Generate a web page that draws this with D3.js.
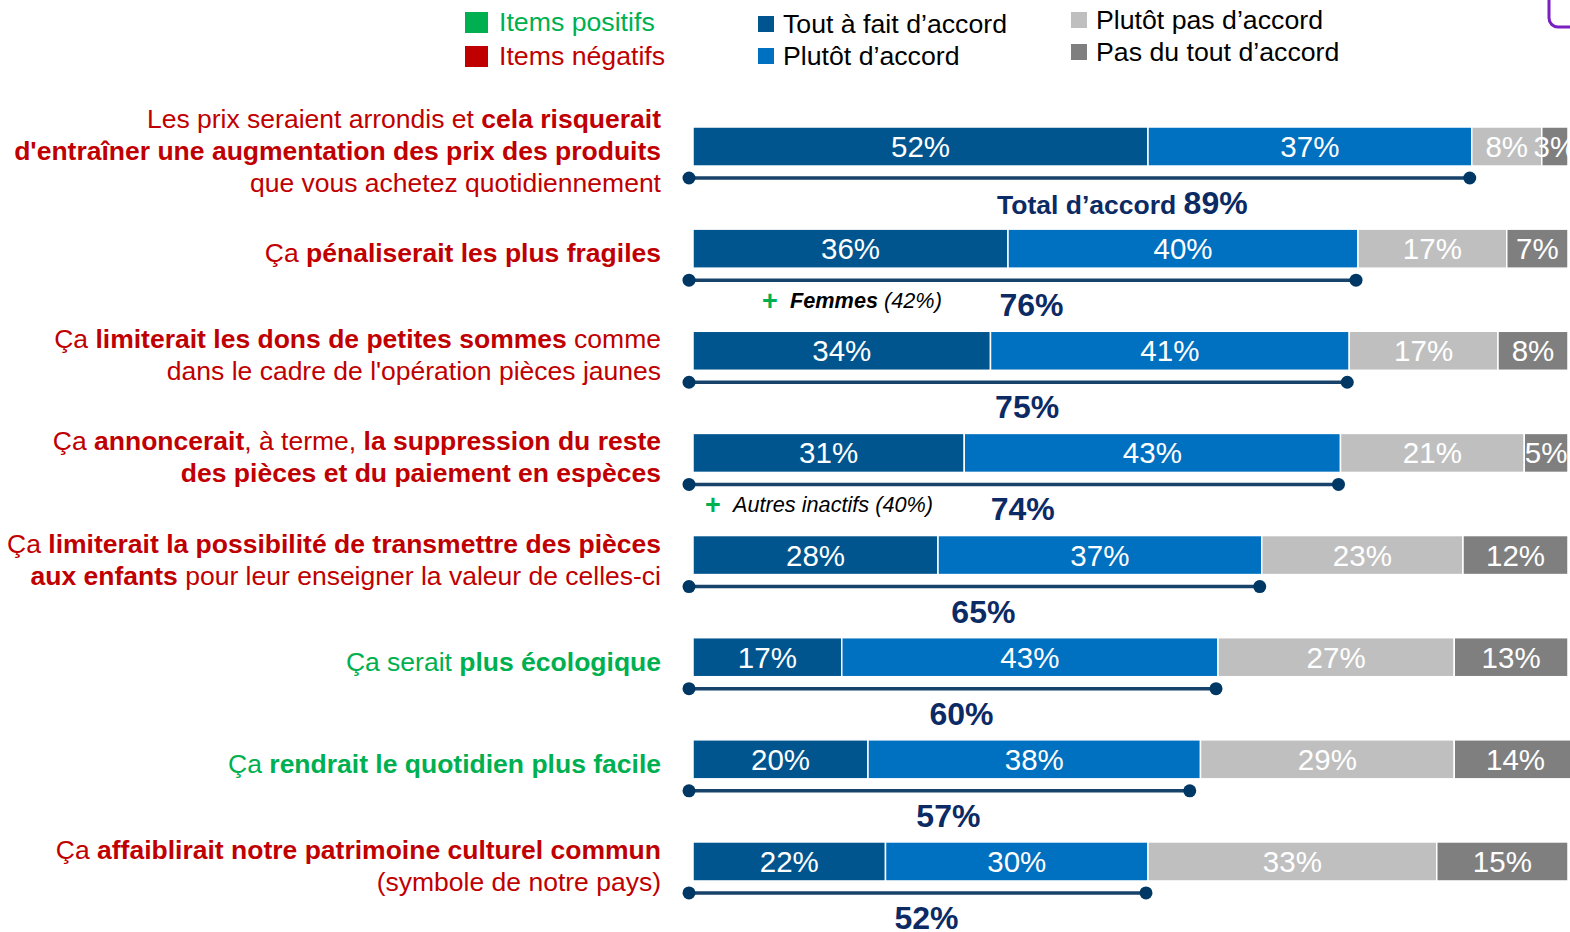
<!DOCTYPE html>
<html>
<head>
<meta charset="utf-8">
<script src="https://cdn.jsdelivr.net/npm/d3@7"></script>
<style>
  html, body { margin: 0; padding: 0; background: #fff; overflow: hidden; }
  svg { display: block; font-family: "Liberation Sans", Arial, sans-serif; }
</style>
</head>
<body>
<svg id="chart" width="1570" height="932"></svg>
<script>
// ---------- DATA ----------
const categories = [
  "Prix arrondis / augmentation des prix",
  "Pénaliserait les plus fragiles",
  "Limiterait les dons de petites sommes",
  "Suppression du reste des pièces",
  "Transmettre des pièces aux enfants",
  "Plus écologique",
  "Quotidien plus facile",
  "Affaiblirait le patrimoine culturel"
];
const seriesNames = ["Tout à fait d’accord", "Plutôt d’accord", "Plutôt pas d’accord", "Pas du tout d’accord"];
const toutAFait   = [52, 36, 34, 31, 28, 17, 20, 22];
const plutot      = [37, 40, 41, 43, 37, 43, 38, 30];
const plutotPas   = [8, 17, 17, 21, 23, 27, 29, 33];
const pasDuTout   = [3, 7, 8, 5, 12, 13, 14, 15];
const totalAccord = [89, 76, 75, 74, 65, 60, 57, 52];
const itemType    = ["neg", "neg", "neg", "neg", "neg", "pos", "pos", "neg"];

// label lines: each line = list of [text, bold]
const labelLines = [
  [[["Les prix seraient arrondis et ", 0], ["cela risquerait", 1]],
   [["d'entraîner une augmentation des prix des produits", 1]],
   [["que vous achetez quotidiennement", 0]]],
  [[["Ça ", 0], ["pénaliserait les plus fragiles", 1]]],
  [[["Ça ", 0], ["limiterait les dons de petites sommes", 1], [" comme", 0]],
   [["dans le cadre de l'opération pièces jaunes", 0]]],
  [[["Ça ", 0], ["annoncerait", 1], [", à terme, ", 0], ["la suppression du reste", 1]],
   [["des pièces et du paiement en espèces", 1]]],
  [[["Ça ", 0], ["limiterait la possibilité de transmettre des pièces", 1]],
   [["aux enfants", 1], [" pour leur enseigner la valeur de celles-ci", 0]]],
  [[["Ça serait ", 0], ["plus écologique", 1]]],
  [[["Ça ", 0], ["rendrait le quotidien plus facile", 1]]],
  [[["Ça ", 0], ["affaiblirait notre patrimoine culturel commun", 1]],
   [["(symbole de notre pays)", 0]]]
];
const totalPrefix = ["Total d’accord ", "", "", "", "", "", "", ""];
const annotGroup  = ["", "Femmes", "", "Autres inactifs", "", "", "", ""];
const annotValue  = ["", "(42%)", "", "(40%)", "", "", "", ""];
const typeLegend  = [["Items positifs", "pos"], ["Items négatifs", "neg"]];

// ---------- STYLE ----------
const segColors = ["#00558f", "#0070c0", "#bfbfbf", "#7f7f7f"];
const typeColors = { pos: "#00b050", neg: "#c00000" };
const navy = "#0c2a64";
const bracketColor = "#17426a";
const dotColor = "#003865";

const svg = d3.select("#chart");

const x = d3.scaleLinear().domain([0, 100]).range([693, 1568]);
const y = d3.scaleBand().domain(d3.range(categories.length))
  .range([127, 127 + 7 * 102.14 + 39]).paddingInner(0.618).paddingOuter(0);
const bh = y.bandwidth();

const series = [toutAFait, plutot, plutotPas, pasDuTout];

// ---------- BARS ----------
categories.forEach((cat, i) => {
  const g = svg.append("g");
  let cum = 0;
  series.forEach((arr, s) => {
    const v = arr[i];
    const x0 = x(cum), x1 = x(cum + v);
    g.append("rect")
      .attr("x", x0).attr("y", y(i))
      .attr("width", x1 - x0).attr("height", bh)
      .attr("fill", segColors[s])
      .attr("stroke", "#fff").attr("stroke-width", 1.5);
    g.append("text")
      .attr("x", (x0 + x1) / 2).attr("y", y(i) + bh / 2 + 10.5)
      .attr("text-anchor", "middle")
      .attr("fill", "#fff").attr("font-size", 29.5)
      .text(v + "%");
    cum += v;
  });

  // bracket
  const by = y(i) + 51;
  const bx0 = x(0) - 4, bx1 = x(totalAccord[i]) - 2;
  g.append("line").attr("x1", bx0).attr("x2", bx1).attr("y1", by).attr("y2", by)
    .attr("stroke", bracketColor).attr("stroke-width", 3.5);
  [bx0, bx1].forEach(cx => g.append("circle").attr("cx", cx).attr("cy", by).attr("r", 6.5).attr("fill", dotColor));

  // total label
  const t = g.append("text")
    .attr("x", x(totalAccord[i] / 2) + (totalPrefix[i] ? 40 : 6)).attr("y", y(i) + 87)
    .attr("text-anchor", "middle").attr("fill", navy).attr("font-weight", "bold");
  if (totalPrefix[i]) t.append("tspan").attr("font-size", 26.5).text(totalPrefix[i]);
  t.append("tspan").attr("font-size", 32).text(totalAccord[i] + "%");

  // annotation
  if (annotGroup[i]) {
    const ax = i === 1 ? 762 : 705;
    const ay = y(i) + 79;
    g.append("text").attr("x", ax).attr("y", ay + 2)
      .attr("fill", "#00b050").attr("font-weight", "bold").attr("font-size", 27).text("+");
    const at = g.append("text").attr("x", ax + 28).attr("y", ay)
      .attr("fill", "#000").attr("font-size", 21.7).attr("font-style", "italic");
    if (i === 1) {
      at.append("tspan").attr("font-weight", "bold").text(annotGroup[i]);
      at.append("tspan").text(" " + annotValue[i]);
    } else {
      at.append("tspan").text(annotGroup[i] + " " + annotValue[i]);
    }
  }

  // left label
  const lines = labelLines[i];
  const n = lines.length;
  const cy = y(i) + bh / 2 + 4.5;
  lines.forEach((line, li) => {
    const tt = g.append("text")
      .attr("x", 661).attr("y", cy + 9 + (li - (n - 1) / 2) * 32)
      .attr("text-anchor", "end").attr("font-size", 26.5)
      .attr("fill", typeColors[itemType[i]]);
    line.forEach(([txt, b]) => {
      tt.append("tspan").attr("font-weight", b ? "bold" : "normal").text(txt);
    });
  });
});

// ---------- LEGENDS ----------
const lg = svg.append("g");
typeLegend.forEach(([name, key], k) => {
  lg.append("rect").attr("x", 465).attr("y", 12 + k * 34).attr("width", 23).attr("height", 21)
    .attr("fill", typeColors[key]);
  lg.append("text").attr("x", 499).attr("y", 31 + k * 34).attr("font-size", 26.7)
    .attr("fill", typeColors[key]).text(name);
});
const legPos = [[758, 16, 33], [758, 48, 65], [1071, 12, 29], [1071, 44, 61]];
seriesNames.forEach((name, s) => {
  const [lx, sy, ty] = legPos[s];
  lg.append("rect").attr("x", lx).attr("y", sy).attr("width", 16).attr("height", 16)
    .attr("fill", segColors[s]);
  lg.append("text").attr("x", lx + 25).attr("y", ty).attr("font-size", 26.7)
    .attr("fill", "#000").text(name);
});

// purple frame corner (top right)
svg.append("rect").attr("x", 1549).attr("y", -60).attr("width", 120).attr("height", 87)
  .attr("rx", 9).attr("fill", "none").attr("stroke", "#7a1fc2").attr("stroke-width", 3);
</script>
</body>
</html>
